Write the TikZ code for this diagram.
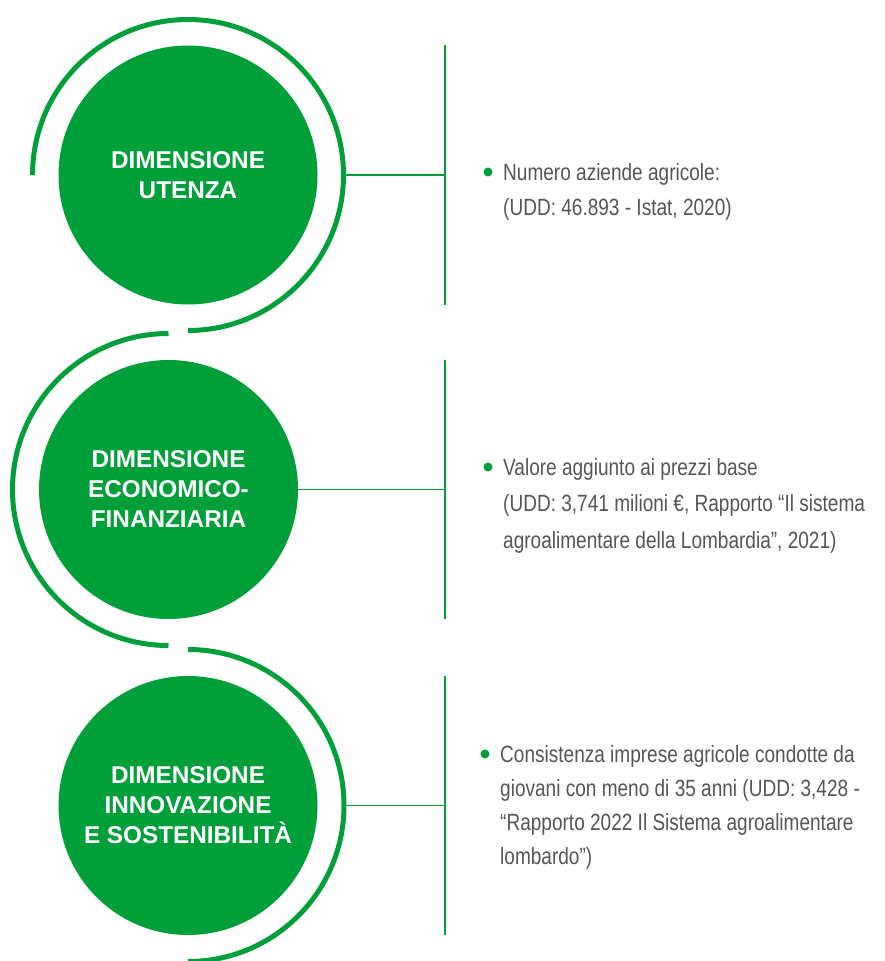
\documentclass[tikz,border=0pt]{standalone}
\usepackage{fontspec}
\setmainfont{Liberation Sans}
\newfontfamily\bodyfont[FakeStretch=0.81]{Liberation Sans}
\definecolor{verde}{RGB}{0,159,58}
\definecolor{testo}{RGB}{85,85,85}

\tikzset{
  dimcircle/.style={circle, fill=verde, minimum size=259pt, inner sep=0pt, text=white, align=center,
    font=\fontsize{24.3}{30}\selectfont\bfseries},
  ring/.style={draw=verde, line width=5pt},
  link/.style={draw=verde, line width=1.3pt},
  voce/.style={anchor=base west, inner sep=0pt, text=testo, font=\bodyfont\fontsize{23.5}{35}\selectfont},
  pallino/.style={circle, fill=verde, minimum size=9pt, inner sep=0pt}
}

\begin{document}
\begin{tikzpicture}[x=1pt,y=1pt]
	\useasboundingbox (0,0) rectangle (885,-961);
	
	% Circles
	\node[dimcircle] (c1) at (188,-175) {DIMENSIONE\\UTENZA};
	\node[dimcircle] (c2) at (168.5,-489.5) {DIMENSIONE\\ECONOMICO-\\FINANZIARIA};
	\node[dimcircle] (c3) at (188,-805.5) {DIMENSIONE\\INNOVAZIONE\\E SOSTENIBILITÀ};
	
	% Rings round the circles
	\draw[ring] ([xshift=-155.5pt]c1.center) arc[start angle=180, end angle=-90, radius=155.5];
	\draw[ring] ([yshift=156pt]c2.center) arc[start angle=90, end angle=270, radius=156];
	\draw[ring] ([yshift=156pt]c3.center) arc[start angle=90, end angle=-90, radius=156];
	
	% Connectors
	\coordinate (a1) at ([xshift=155.5pt]c1.center);
	\coordinate (a3) at ([xshift=156pt]c3.center);
	\coordinate (v1) at (445,-175);
	\coordinate (v2) at (445,-489.5);
	\coordinate (v3) at (445,-805.5);
	
	\draw[link] (a1) -- (v1);
	\draw[link] (c2.east) -- (v2);
	\draw[link] (a3) -- (v3);
	
	\draw[link] (c1.north -| v1) -- (c1.south -| v1); % vertical bars
	\draw[link] (c2.north -| v2) -- (c2.south -| v2);
	\draw[link] (c3.north -| v3) -- (c3.south -| v3);
	
	% Texts
	\node[voce] (t1) at (503,-180) {\parbox[t]{400pt}{Numero aziende agricole:\\(UDD: 46.893 - Istat, 2020)}};
	\node[voce] (t2) at (503,-475) {\parbox[t]{400pt}{\baselineskip=36.5pt Valore aggiunto ai prezzi base\\(UDD: 3,741 milioni €, Rapporto “Il sistema\\agroalimentare della Lombardia”, 2021)}};
	\node[voce] (t3) at (500,-762) {\parbox[t]{400pt}{\baselineskip=34pt Consistenza imprese agricole condotte da\\giovani con meno di 35 anni (UDD: 3,428 -\\“Rapporto 2022 Il Sistema agroalimentare\\lombardo”)}};
	
	\node[pallino] (b1) at ([xshift=-15pt,yshift=8pt]t1.base west) {};
	\node[pallino] (b2) at ([xshift=-15pt,yshift=8pt]t2.base west) {};
	\node[pallino] (b3) at ([xshift=-15pt,yshift=8pt]t3.base west) {};
\end{tikzpicture}
\end{document}
